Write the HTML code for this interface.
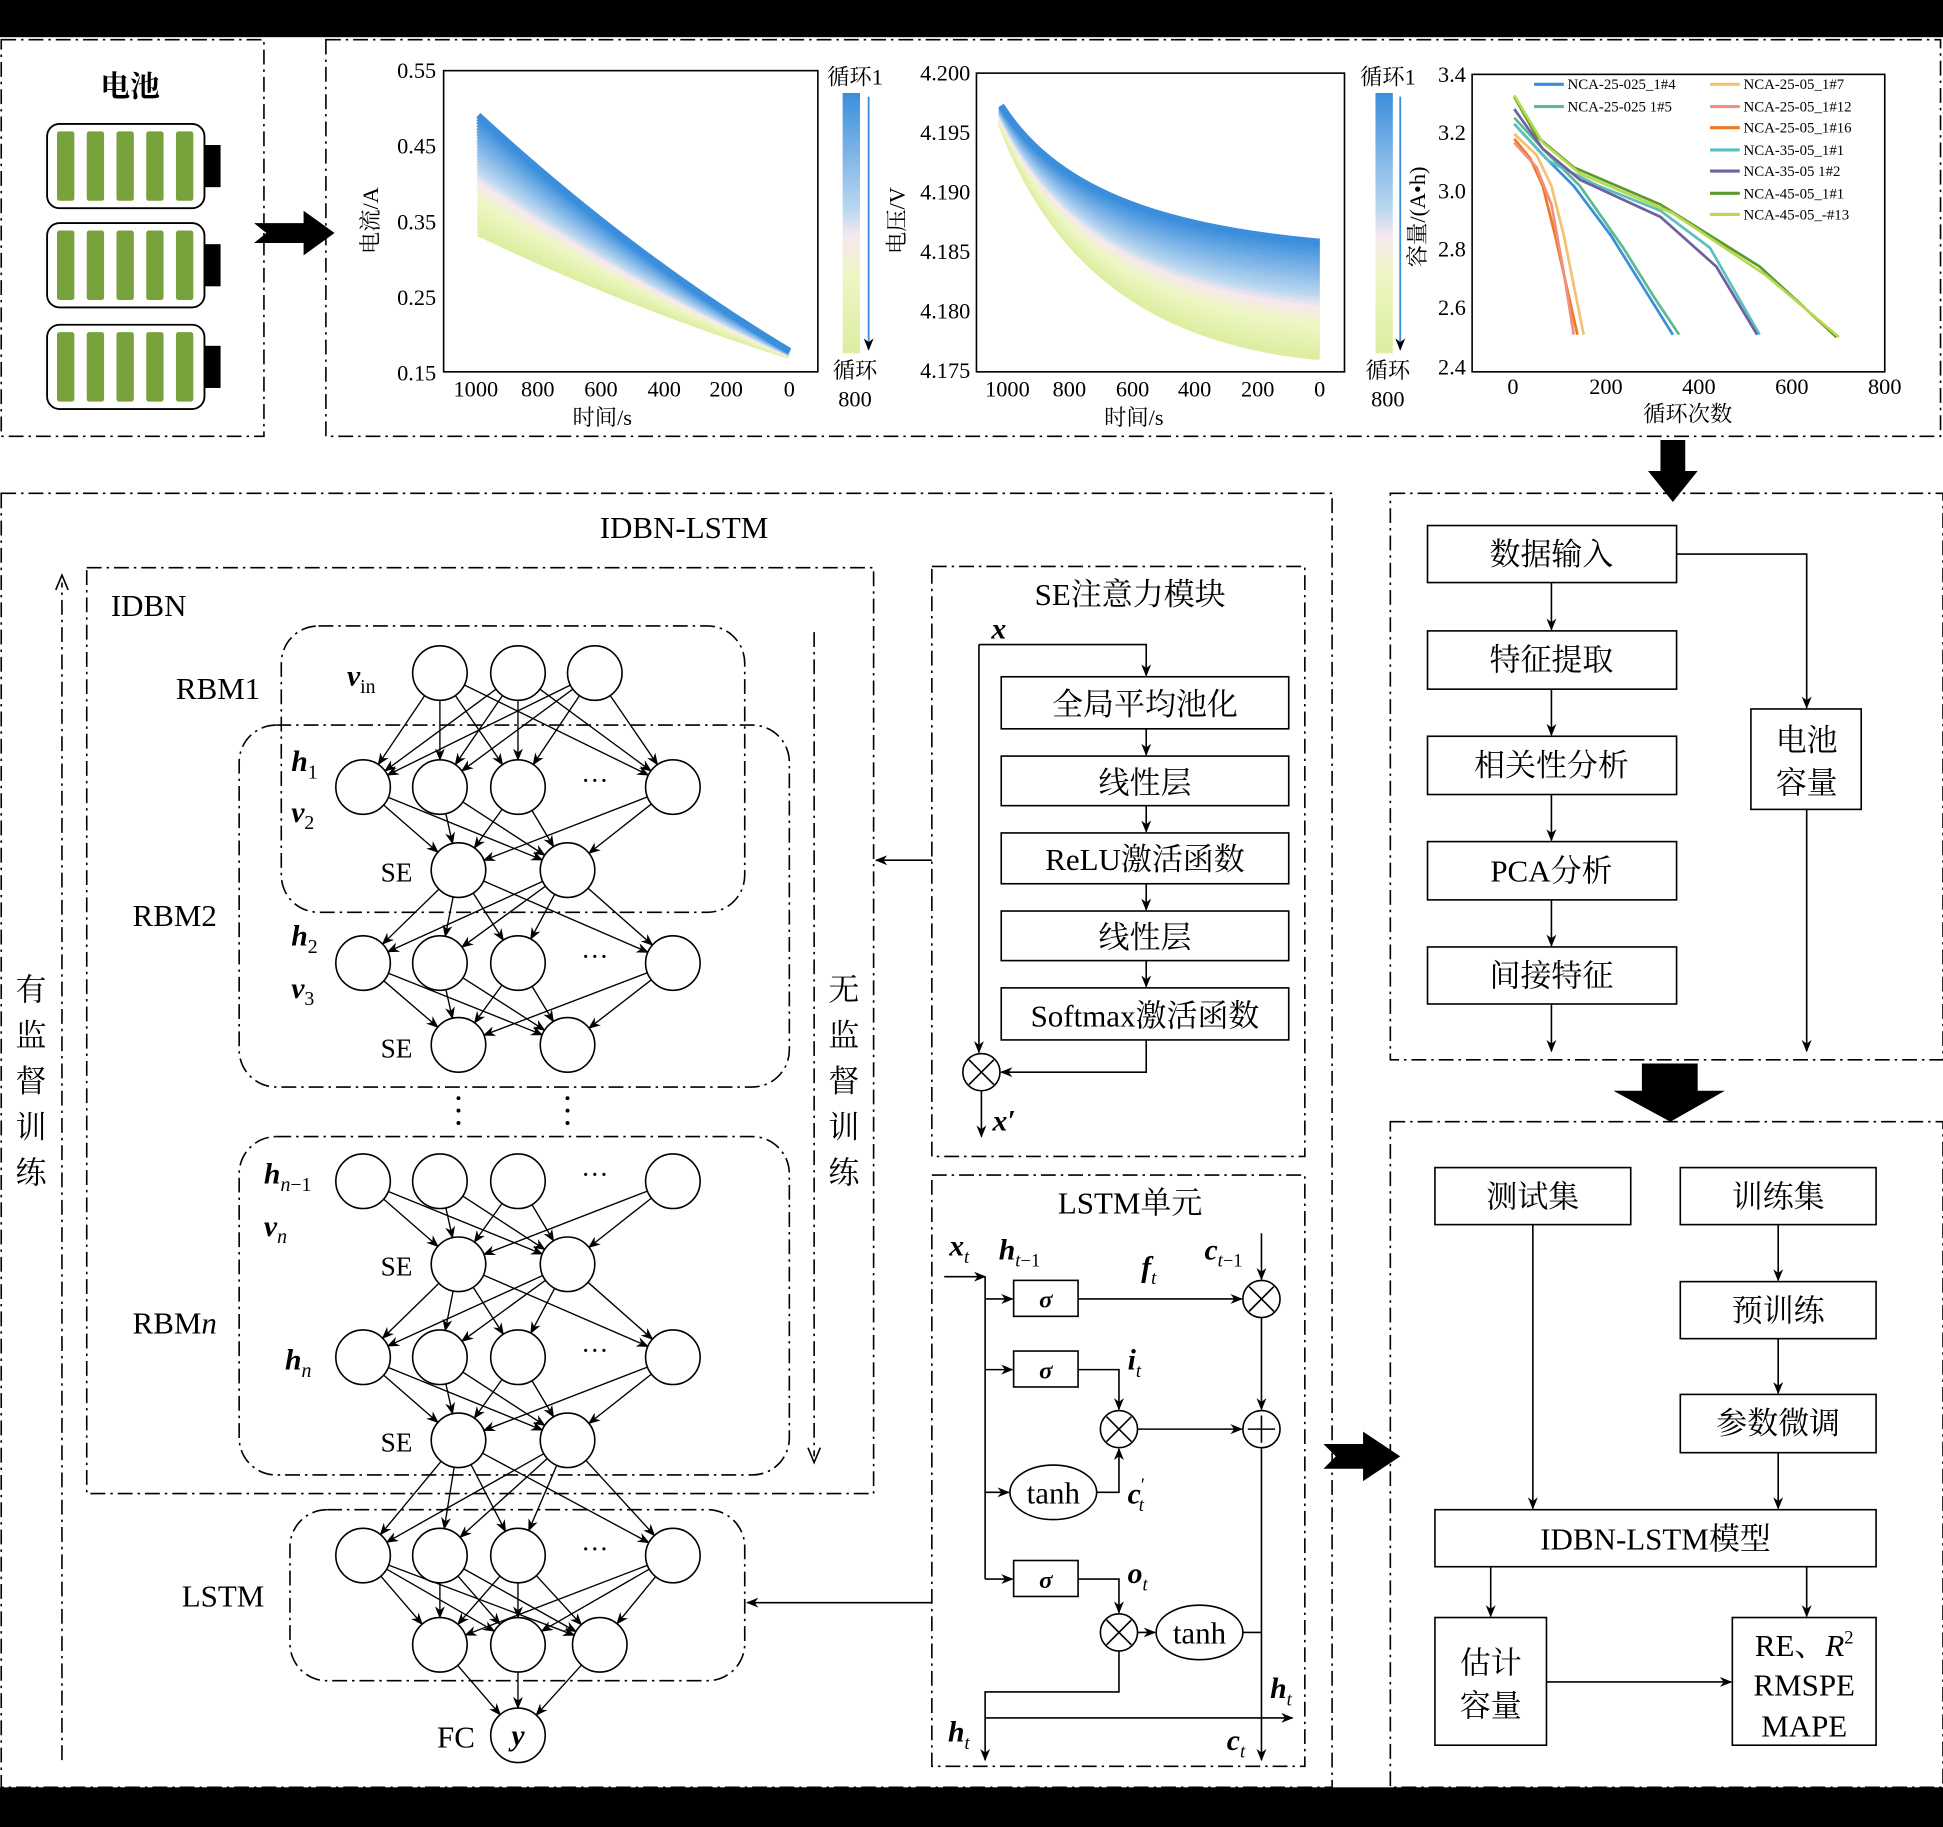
<!DOCTYPE html>
<html><head><meta charset="utf-8"><style>
html,body{margin:0;padding:0;background:#fff}
svg{display:block}
text{font-family:"Liberation Serif","Noto Serif CJK SC",serif;fill:#000}
</style></head><body>
<svg id="s" width="1943" height="1827" viewBox="0 0 1568 1474" preserveAspectRatio="none" xmlns="http://www.w3.org/2000/svg">
<defs>
<marker id="a" markerWidth="10" markerHeight="10" refX="9" refY="5" orient="auto" markerUnits="userSpaceOnUse"><path d="M0,1 L10,5 L0,9 L3,5 z" fill="#000"/></marker>
<linearGradient id="cb" x1="0" y1="0" x2="0" y2="1"><stop offset="0" stop-color="#3a8edc"/><stop offset="0.45" stop-color="#bcd8f0"/><stop offset="0.55" stop-color="#f6e8ee"/><stop offset="0.7" stop-color="#eef6c4"/><stop offset="1" stop-color="#dceea0"/></linearGradient>
</defs>
<rect x="0" y="0" width="1568" height="1474" fill="#fff"/>
<rect x="0" y="0" width="1568" height="30" fill="#000"/>
<rect x="0" y="1442" width="1568" height="32" fill="#000"/>
<g fill="none" stroke="#000" stroke-width="1.3" stroke-dasharray="12,4,2,4">
<rect x="1" y="32" width="212" height="320"/>
<rect x="263" y="32" width="1303" height="320"/>
<rect x="1" y="398" width="1074" height="1044"/>
<rect x="70" y="458" width="635" height="747"/>
<rect x="752" y="457" width="301" height="476"/>
<rect x="752" y="948" width="301" height="477"/>
<rect x="1122" y="398" width="446" height="457"/>
<rect x="1122" y="905" width="446" height="537"/>
<rect x="227" y="505" width="374" height="231" rx="30"/>
<rect x="193" y="585" width="444" height="292" rx="30"/>
<rect x="193" y="917" width="444" height="273" rx="30"/>
<rect x="234" y="1218" width="367" height="138" rx="30"/>
<line x1="657" y1="510" x2="657" y2="1175"/>
<line x1="50" y1="1420" x2="50" y2="470"/>
</g>
<path d="M652,1168 L657,1180 L662,1168" fill="none" stroke="#000" stroke-width="1.3"/>
<path d="M45,476 L50,464 L55,476" fill="none" stroke="#000" stroke-width="1.3"/>
<text x="105" y="78" font-size="24" font-weight="bold" text-anchor="middle">电池</text>
<g id="bat"></g>
<path d="M205,180 L245,180 L245,170 L270,188 L245,206 L245,196 L205,196 L215,188 z" fill="#000"/>
<path d="M1340,355 L1360,355 L1360,380 L1370,380 L1350,405 L1330,380 L1340,380 z" fill="#000"/>
<path d="M1325,858 L1370,858 L1370,880 L1392,880 L1348,905 L1302,880 L1325,880 z" fill="#000"/>
<path d="M1068,1165 L1100,1165 L1100,1155 L1130,1175 L1100,1195 L1100,1185 L1068,1185 L1078,1175 z" fill="#000"/>
<g id="c1"></g>
<rect x="358" y="57" width="302" height="243" fill="none" stroke="#000" stroke-width="1.3"/>
<rect x="788" y="59" width="297" height="241" fill="none" stroke="#000" stroke-width="1.3"/>
<rect x="1188" y="60" width="333" height="240" fill="none" stroke="#000" stroke-width="1.3"/>
<g font-size="18">
<text x="352" y="63" text-anchor="end">0.55</text><text x="352" y="124" text-anchor="end">0.45</text><text x="352" y="185" text-anchor="end">0.35</text><text x="352" y="246" text-anchor="end">0.25</text><text x="352" y="307" text-anchor="end">0.15</text>
<text x="384" y="320" text-anchor="middle">1000</text><text x="434" y="320" text-anchor="middle">800</text><text x="485" y="320" text-anchor="middle">600</text><text x="536" y="320" text-anchor="middle">400</text><text x="586" y="320" text-anchor="middle">200</text><text x="637" y="320" text-anchor="middle">0</text>
<text x="486" y="343" text-anchor="middle">时间/s</text>
<text x="305" y="178" text-anchor="middle" transform="rotate(-90 305 178)">电流/A</text>
<text x="783" y="65" text-anchor="end">4.200</text><text x="783" y="113" text-anchor="end">4.195</text><text x="783" y="161" text-anchor="end">4.190</text><text x="783" y="209" text-anchor="end">4.185</text><text x="783" y="257" text-anchor="end">4.180</text><text x="783" y="305" text-anchor="end">4.175</text>
<text x="813" y="320" text-anchor="middle">1000</text><text x="863" y="320" text-anchor="middle">800</text><text x="914" y="320" text-anchor="middle">600</text><text x="964" y="320" text-anchor="middle">400</text><text x="1015" y="320" text-anchor="middle">200</text><text x="1065" y="320" text-anchor="middle">0</text>
<text x="915" y="343" text-anchor="middle">时间/s</text>
<text x="730" y="178" text-anchor="middle" transform="rotate(-90 730 178)">电压/V</text>
<text x="1183" y="66" text-anchor="end">3.4</text><text x="1183" y="113" text-anchor="end">3.2</text><text x="1183" y="160" text-anchor="end">3.0</text><text x="1183" y="207" text-anchor="end">2.8</text><text x="1183" y="254" text-anchor="end">2.6</text><text x="1183" y="302" text-anchor="end">2.4</text>
<text x="1221" y="318" text-anchor="middle">0</text><text x="1296" y="318" text-anchor="middle">200</text><text x="1371" y="318" text-anchor="middle">400</text><text x="1446" y="318" text-anchor="middle">600</text><text x="1521" y="318" text-anchor="middle">800</text>
<text x="1362" y="340" text-anchor="middle">循环次数</text>
<text x="1150" y="175" text-anchor="middle" transform="rotate(-90 1150 175)">容量/(A•h)</text>
<text x="690" y="68" text-anchor="middle">循环1</text><text x="690" y="305" text-anchor="middle">循环</text><text x="690" y="328" text-anchor="middle">800</text>
<text x="1120" y="68" text-anchor="middle">循环1</text><text x="1120" y="305" text-anchor="middle">循环</text><text x="1120" y="328" text-anchor="middle">800</text>
</g>
<rect x="680" y="75" width="14" height="210" fill="url(#cb)"/>
<rect x="1110" y="75" width="14" height="210" fill="url(#cb)"/>
<line x1="701" y1="78" x2="701" y2="282" stroke="#3a8edc" stroke-width="1.5" marker-end="url(#a)"/>
<line x1="1130" y1="78" x2="1130" y2="282" stroke="#3a8edc" stroke-width="1.5" marker-end="url(#a)"/>
<g id="c3" fill="none" stroke-width="2.2"></g>
<g font-size="12" id="leg"></g>
<g fill="#fff" stroke="#000" stroke-width="1.3">
<rect x="1152" y="424" width="201" height="46"/><rect x="1152" y="509" width="201" height="47"/><rect x="1152" y="594" width="201" height="47"/><rect x="1152" y="679" width="201" height="47"/><rect x="1152" y="764" width="201" height="46"/>
<rect x="1413" y="572" width="89" height="81"/>
<rect x="1158" y="942" width="158" height="46"/><rect x="1356" y="942" width="158" height="46"/><rect x="1356" y="1034" width="158" height="46"/><rect x="1356" y="1125" width="158" height="47"/><rect x="1158" y="1218" width="356" height="46"/>
<rect x="1158" y="1305" width="90" height="103"/><rect x="1398" y="1305" width="116" height="103"/>
<rect x="808" y="546" width="232" height="42"/><rect x="808" y="610" width="232" height="40"/><rect x="808" y="672" width="232" height="41"/><rect x="808" y="735" width="232" height="40"/><rect x="808" y="797" width="232" height="42"/>
<rect x="818" y="1033" width="52" height="29"/><rect x="818" y="1090" width="52" height="29"/><rect x="818" y="1259" width="52" height="29"/>
<ellipse cx="850" cy="1204" rx="35" ry="22"/><ellipse cx="968" cy="1317" rx="35" ry="22"/>
</g>
<g font-size="25" text-anchor="middle">
<text x="1252" y="456">数据输入</text><text x="1252" y="541">特征提取</text><text x="1252" y="626">相关性分析</text><text x="1252" y="711">PCA分析</text><text x="1252" y="796">间接特征</text>
<text x="1458" y="606">电池</text><text x="1458" y="640">容量</text>
<text x="1237" y="974">测试集</text><text x="1435" y="974">训练集</text><text x="1435" y="1066">预训练</text><text x="1435" y="1157">参数微调</text><text x="1336" y="1250">IDBN-LSTM模型</text>
<text x="1203" y="1350">估计</text><text x="1203" y="1385">容量</text>
<text x="1456" y="1336">RE、<tspan font-style="italic">R</tspan><tspan font-size="15" dy="-10">2</tspan></text><text x="1456" y="1368">RMSPE</text><text x="1456" y="1401">MAPE</text>
<text x="924" y="577">全局平均池化</text><text x="924" y="640">线性层</text><text x="924" y="702">ReLU激活函数</text><text x="924" y="765">线性层</text><text x="924" y="828">Softmax激活函数</text>
<text x="552" y="434">IDBN-LSTM</text><text x="912" y="488">SE注意力模块</text><text x="912" y="979">LSTM单元</text>
<text x="120" y="497">IDBN</text>
<text x="176" y="564">RBM1</text><text x="141" y="747">RBM2</text><text x="141" y="1076">RBM<tspan font-style="italic">n</tspan></text><text x="180" y="1296">LSTM</text><text x="368" y="1410">FC</text>
<text x="850" y="1213">tanh</text><text x="968" y="1326">tanh</text>
</g>
<g font-size="25" text-anchor="middle">
<text x="25" y="807">有</text><text x="25" y="844">监</text><text x="25" y="881">督</text><text x="25" y="918">训</text><text x="25" y="955">练</text>
<text x="681" y="807">无</text><text x="681" y="844">监</text><text x="681" y="881">督</text><text x="681" y="918">训</text><text x="681" y="955">练</text>
</g>
<g font-size="22" text-anchor="middle">
<text x="320" y="711">SE</text><text x="320" y="853">SE</text><text x="320" y="1029">SE</text><text x="320" y="1171">SE</text>
</g>
<g font-size="24" font-style="italic" font-weight="bold">
<text x="280" y="553">v<tspan font-size="16" dy="6" font-weight="normal" font-style="normal">in</tspan></text>
<text x="235" y="622">h<tspan font-size="16" dy="6" font-weight="normal" font-style="normal">1</tspan></text>
<text x="235" y="663">v<tspan font-size="16" dy="6" font-weight="normal" font-style="normal">2</tspan></text>
<text x="235" y="763">h<tspan font-size="16" dy="6" font-weight="normal" font-style="normal">2</tspan></text>
<text x="235" y="805">v<tspan font-size="16" dy="6" font-weight="normal" font-style="normal">3</tspan></text>
<text x="213" y="955">h<tspan font-size="16" dy="6" font-weight="normal"><tspan font-style="italic">n</tspan><tspan font-style="normal">−1</tspan></tspan></text>
<text x="213" y="997">v<tspan font-size="16" dy="6" font-weight="normal">n</tspan></text>
<text x="230" y="1105">h<tspan font-size="16" dy="6" font-weight="normal">n</tspan></text>
<text x="800" y="515">x</text><text x="801" y="912">x′</text>
<text x="766" y="1013">x<tspan font-size="15" dy="6" font-weight="normal">t</tspan></text>
<text x="806" y="1016">h<tspan font-size="15" dy="6" font-weight="normal"><tspan>t</tspan><tspan font-style="normal">−1</tspan></tspan></text>
<text x="921" y="1030">f<tspan font-size="15" dy="6" font-weight="normal">t</tspan></text>
<text x="972" y="1016">c<tspan font-size="15" dy="6" font-weight="normal"><tspan>t</tspan><tspan font-style="normal">−1</tspan></tspan></text>
<text x="910" y="1105">i<tspan font-size="15" dy="6" font-weight="normal">t</tspan></text>
<text x="910" y="1213">c<tspan font-size="15" dy="-10" font-weight="normal" font-style="normal">′</tspan><tspan font-size="15" dx="-5" dy="16" font-weight="normal">t</tspan></text>
<text x="910" y="1277">o<tspan font-size="15" dy="6" font-weight="normal">t</tspan></text>
<text x="1025" y="1370">h<tspan font-size="15" dy="6" font-weight="normal">t</tspan></text>
<text x="765" y="1405">h<tspan font-size="15" dy="6" font-weight="normal">t</tspan></text>
<text x="990" y="1412">c<tspan font-size="15" dy="6" font-weight="normal">t</tspan></text>
</g>
<g font-size="20" font-weight="bold" text-anchor="middle" font-style="italic">
<text x="844" y="1055">σ</text><text x="844" y="1112">σ</text><text x="844" y="1281">σ</text>
</g>
<g stroke="#000" stroke-width="1.3" fill="none" marker-end="url(#a)">
<line x1="1252" y1="470" x2="1252" y2="508"/><line x1="1252" y1="556" x2="1252" y2="593"/><line x1="1252" y1="641" x2="1252" y2="678"/><line x1="1252" y1="726" x2="1252" y2="763"/><line x1="1252" y1="810" x2="1252" y2="848"/>
<polyline points="1353,447 1458,447 1458,571"/><line x1="1458" y1="653" x2="1458" y2="848"/>
<line x1="1237" y1="988" x2="1237" y2="1217"/><line x1="1435" y1="988" x2="1435" y2="1033"/><line x1="1435" y1="1080" x2="1435" y2="1124"/><line x1="1435" y1="1172" x2="1435" y2="1217"/>
<line x1="1203" y1="1264" x2="1203" y2="1304"/><line x1="1458" y1="1264" x2="1458" y2="1304"/><line x1="1248" y1="1357" x2="1397" y2="1357"/>
<polyline points="790,520 925,520 925,545"/><line x1="925" y1="588" x2="925" y2="609"/><line x1="925" y1="650" x2="925" y2="671"/><line x1="925" y1="713" x2="925" y2="734"/><line x1="925" y1="775" x2="925" y2="796"/>
<line x1="790" y1="520" x2="790" y2="849"/><polyline points="925,839 925,865 808,865"/><line x1="792" y1="880" x2="792" y2="917"/>
<line x1="752" y1="694" x2="707" y2="694"/><line x1="752" y1="1293" x2="603" y2="1293"/>
<line x1="762" y1="1030" x2="795" y2="1030"/>
<line x1="795" y1="1048" x2="817" y2="1048"/><line x1="795" y1="1105" x2="817" y2="1105"/><line x1="795" y1="1204" x2="814" y2="1204"/><line x1="795" y1="1274" x2="817" y2="1274"/>
<line x1="870" y1="1048" x2="1002" y2="1048"/><line x1="1018" y1="995" x2="1018" y2="1032"/><line x1="1018" y1="1063" x2="1018" y2="1137"/>
<polyline points="870,1105 903,1105 903,1137"/><polyline points="885,1204 903,1204 903,1169"/><line x1="918" y1="1153" x2="1002" y2="1153"/>
<line x1="1018" y1="1168" x2="1018" y2="1420"/><polyline points="870,1274 903,1274 903,1301"/><line x1="918" y1="1317" x2="932" y2="1317"/>
<polyline points="903,1332 903,1365 795,1365 795,1420"/><line x1="795" y1="1386" x2="1043" y2="1386"/>
</g>
<line x1="795" y1="1030" x2="795" y2="1274" stroke="#000" stroke-width="1.3"/>
<line x1="1003" y1="1317" x2="1018" y2="1317" stroke="#000" stroke-width="1.3"/>
<g stroke="#000" stroke-width="1.3" fill="#fff" id="ops"></g>
<g id="net"></g>
</svg>
<script>
var NS="http://www.w3.org/2000/svg";
function el(p,t,a){var e=document.createElementNS(NS,t);for(var k in a)e.setAttribute(k,a[k]);p.appendChild(e);return e;}
var b=document.getElementById('bat');
[100,180,262].forEach(function(y){
 el(b,'rect',{x:38,y:y,width:127,height:68,rx:10,fill:'#fff',stroke:'#000','stroke-width':1.5});
 el(b,'rect',{x:165,y:y+17,width:13,height:34,fill:'#000'});
 for(var i=0;i<5;i++)el(b,'rect',{x:46+i*24,y:y+6,width:14,height:56,rx:2,fill:'#78a23c'});
});
function lerp(a,b,t){return a+(b-a)*t}
function col(t){
 var st=[[0,[58,142,220]],[0.45,[188,216,240]],[0.55,[246,232,238]],[0.7,[238,246,196]],[1,[220,238,160]]];
 for(var i=0;i<st.length-1;i++){if(t<=st[i+1][0]){var u=(t-st[i][0])/(st[i+1][0]-st[i][0]);var c=[0,1,2].map(function(j){return Math.round(lerp(st[i][1][j],st[i+1][1][j],u))});return 'rgb('+c+')';}}
 return 'rgb(220,238,160)';
}
var c1=document.getElementById('c1');
for(var k=40;k>=0;k--){var t=k/40;
 var ys=lerp(93,188,t),ye=lerp(283,287,t);
 el(c1,'path',{d:'M386,'+ys+' Q510,'+(ys+(ye-ys)*0.6)+' 637,'+ye,fill:'none',stroke:col(t),'stroke-width':5});
 var a=lerp(85,100,t),e=lerp(195,288,t);
 el(c1,'path',{d:'M808,'+a+' C850,'+(a+(e-a)*0.6)+' 930,'+(e-12)+' 1065,'+e,fill:'none',stroke:col(t),'stroke-width':5});
}
var c3=document.getElementById('c3');
[['#f5c070','1222,108 1240,125 1252,150 1262,190 1270,230 1278,270'],['#f07820','1222,112 1235,128 1245,150 1255,190 1264,230 1273,270'],['#f09080','1222,115 1240,135 1252,165 1262,220 1270,270'],
['#3a8edc','1222,100 1245,125 1270,150 1300,190 1325,230 1350,270'],['#60b890','1222,95 1245,120 1275,150 1310,200 1335,240 1355,270'],['#5cc0c0','1222,100 1250,130 1290,150 1340,170 1380,200 1420,270'],
['#7060a0','1222,88 1245,120 1275,145 1340,175 1385,215 1418,270'],['#5a9a30','1222,78 1240,110 1270,135 1340,165 1420,215 1482,272'],['#b8d850','1222,77 1245,115 1275,140 1350,172 1425,222 1484,272']].forEach(function(l){
 el(c3,'polyline',{points:l[1],stroke:l[0],'stroke-linejoin':'round'});});
var lg=document.getElementById('leg');
[['#3a8edc','NCA-25-025_1#4',1238,72],['#60b890','NCA-25-025 1#5',1238,90],['#f5c070','NCA-25-05_1#7',1380,72],['#f09080','NCA-25-05_1#12',1380,90],['#f07820','NCA-25-05_1#16',1380,107],['#5cc0c0','NCA-35-05_1#1',1380,125],['#7060a0','NCA-35-05 1#2',1380,142],['#5a9a30','NCA-45-05_1#1',1380,160],['#b8d850','NCA-45-05_-#13',1380,177]].forEach(function(l){
 el(lg,'line',{x1:l[2],y1:l[3]-4,x2:l[2]+24,y2:l[3]-4,stroke:l[0],'stroke-width':2.5});
 var t=el(lg,'text',{x:l[2]+27,y:l[3]});t.textContent=l[1];});
var ops=document.getElementById('ops');
function op(x,y,plus){el(ops,'circle',{cx:x,cy:y,r:15});
 if(plus){el(ops,'line',{x1:x-11,y1:y,x2:x+11,y2:y});el(ops,'line',{x1:x,y1:y-11,x2:x,y2:y+11});}
 else{el(ops,'line',{x1:x-10,y1:y-10,x2:x+10,y2:y+10});el(ops,'line',{x1:x-10,y1:y+10,x2:x+10,y2:y-10});}}
op(792,865);op(1018,1048);op(903,1153);op(1018,1153,1);op(903,1317);
var net=document.getElementById('net');var R=22;
var five=[293,355,418,480,543],se=[370,458];
var rows=[[[355,418,480],543],[five,635],[se,702],[five,777],[se,843],[five,953],[se,1020],[five,1095],[se,1162],[five,1255],[[355,418,484],1327],[[418],1400]];
function real(xs){return xs.filter(function(x){return !(xs.length==5&&x==480)});}
for(var i=0;i<rows.length-1;i++){
 if(i==4)continue;
 var A=real(rows[i][0]),B=real(rows[i+1][0]),ya=rows[i][1],yb=rows[i+1][1];
 A.forEach(function(xa){B.forEach(function(xb){
  var dx=xb-xa,dy=yb-ya,L=Math.sqrt(dx*dx+dy*dy);
  el(net,'line',{x1:xa+dx/L*R,y1:ya+dy/L*R,x2:xb-dx/L*R,y2:yb-dy/L*R,stroke:'#000','stroke-width':1.1,'marker-end':'url(#a)'});});});
}
rows.forEach(function(r){r[0].forEach(function(x){
 if(r[0].length==5&&x==480){var t=el(net,'text',{x:480,y:r[1]+2,'font-size':22,'text-anchor':'middle'});t.textContent='···';}
 else el(net,'circle',{cx:x,cy:r[1],r:R,fill:'#fff',stroke:'#000','stroke-width':1.3});});});
[370,458].forEach(function(x){for(var j=0;j<3;j++)el(net,'circle',{cx:x,cy:886+j*10,r:1.6,fill:'#000'});});
var yt=el(net,'text',{x:418,y:1408,'font-size':24,'font-style':'italic','font-weight':'bold','text-anchor':'middle'});yt.textContent='y';
</script>
</body></html>
